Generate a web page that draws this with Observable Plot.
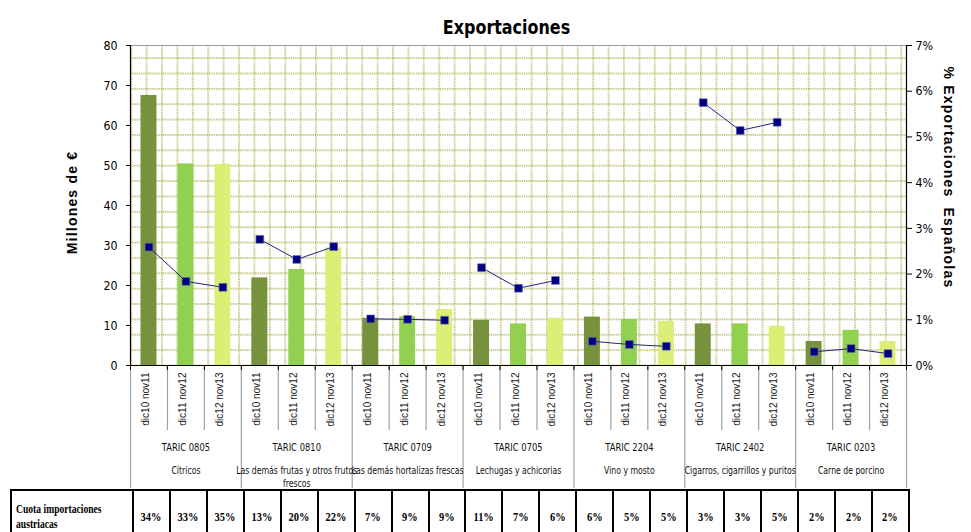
<!DOCTYPE html>
<html>
<head>
<meta charset="utf-8">
<script src="https://cdn.jsdelivr.net/npm/d3@7"></script>
<script src="https://cdn.jsdelivr.net/npm/@observablehq/plot@0.6"></script>
<style>
  html, body { margin: 0; padding: 0; background: #fff; overflow: hidden; }
  #wrap { position: relative; width: 971px; height: 532px; }
  #chart svg { display: block; }
  table.cuota { position: absolute; left: 10px; top: 489px; border-collapse: collapse; font-family: "Liberation Serif", "Times New Roman", serif; font-weight: bold; }
  table.cuota td { border: 2px solid #000; height: 52px; padding: 0; text-align: center; font-size: 13px; }
  table.cuota td span { display: inline-block; transform: scaleX(0.8); }
  table.cuota td.lab { text-align: left; padding-left: 4px; font-size: 12px; line-height: 15px; }
  table.cuota td.lab span { transform-origin: left center; white-space: nowrap; }
</style>
</head>
<body>
<div id="wrap">
  <div id="chart"></div>
</div>
<script>
// ---------- data ----------
const groups = ["TARIC 0805", "TARIC 0810", "TARIC 0709", "TARIC 0705", "TARIC 2204", "TARIC 2402", "TARIC 0203"];
const descriptions = ["Cítricos", "Las demás frutas y otros frutos\nfrescos", "Las demás hortalizas frescas", "Lechugas y achicorias", "Vino y mosto", "Cigarros, cigarrillos y puritos", "Carne de porcino"];
const periods = ["dic10 nov11", "dic11 nov12", "dic12 nov13"];
const exportsMEUR = [
  [67.5, 50.4, 50.3],
  [21.9, 24.0, 29.4],
  [11.8, 12.2, 14.0],
  [11.3, 10.4, 11.8],
  [12.1, 11.5, 11.0],
  [10.4, 10.4, 9.8],
  [6.0, 8.8, 6.0]
];
const shareSpainPct = [
  [2.59, 1.84, 1.71],
  [2.76, 2.32, 2.60],
  [1.02, 1.01, 0.99],
  [2.14, 1.69, 1.86],
  [0.53, 0.46, 0.42],
  [5.75, 5.14, 5.32],
  [0.30, 0.37, 0.26]
];
const cuotaAustria = [
  ["34%", "33%", "35%"],
  ["13%", "20%", "22%"],
  ["7%", "9%", "9%"],
  ["11%", "7%", "6%"],
  ["6%", "5%", "5%"],
  ["3%", "3%", "5%"],
  ["2%", "2%", "2%"]
];
const leftTicks = [0, 10, 20, 30, 40, 50, 60, 70, 80];
const rightTicks = [0, 1, 2, 3, 4, 5, 6, 7];
const periodColors = ["#76923C", "#92D050", "#DDEE77"];

// ---------- build rows ----------
const rows = [];
groups.forEach((g, gi) => periods.forEach((p, pi) => rows.push({
  i: gi * 3 + pi, gi, pi, group: g, period: p,
  value: exportsMEUR[gi][pi], share: shareSpainPct[gi][pi], cuota: cuotaAustria[gi][pi]
})));
const groupRows = groups.map((g, gi) => ({gi, g, desc: descriptions[gi]}));
const nSlots = rows.length;
const pctToY = 80 / 7; // right axis (0–7 %) mapped onto left axis (0–80)
const bounds = d3.range(0, nSlots + 1);

const narrow = '"DejaVu Sans", sans-serif';
const arial = '"Liberation Sans", Arial, sans-serif';

const plot = Plot.plot({
  width: 971,
  height: 490,
  marginTop: 45,
  marginBottom: 125,
  marginLeft: 130,
  marginRight: 65,
  style: {fontFamily: narrow, fontSize: "12px", color: "#000", background: "#fff"},
  x: {type: "linear", domain: [0, nSlots]},
  y: {domain: [0, 80]},
  color: {domain: periods, range: periodColors},
  marks: [
    Plot.frame({fill: "url(#xlgrid)", stroke: null}),
    Plot.ruleY([80], {stroke: "#9a9a9a", strokeWidth: 1.2}),
    // bars
    Plot.rectY(rows, {x1: d => d.i, x2: d => d.i + 1, y: "value", fill: "period", insetLeft: 10.5, insetRight: 10.5}),
    // separators in category area
    Plot.axisX({ticks: bounds.filter(b => b % 3 !== 0), tickSize: 65, tickFormat: () => "", stroke: "#a0a0a0", strokeWidth: 1.2}),
    Plot.axisX({ticks: bounds.filter(b => b % 3 === 0), tickSize: 123, tickFormat: () => "", stroke: "#a0a0a0", strokeWidth: 1.2}),
    Plot.axisX({ticks: bounds, tickSize: 5, tickFormat: () => "", stroke: "#000"}),
    // axis lines
    Plot.ruleY([0], {stroke: "#000", strokeWidth: 1.2}),
    Plot.ruleX([0, nSlots], {stroke: "#000", strokeWidth: 1.2}),
    // left axis
    Plot.axisY({ticks: leftTicks, anchor: "left", tickSize: 4, tickPadding: 9, fontSize: 13, label: null}),
    // right axis
    Plot.axisY({ticks: rightTicks.map(p => p * pctToY), anchor: "right", tickSize: 5, tickPadding: 4,
      tickFormat: v => Math.round(v / pctToY) + "%", fontSize: 13, label: null}),
    // share line
    Plot.line(rows, {x: d => d.i + 0.5, y: d => d.share * pctToY, z: "group", stroke: "#22228a", strokeWidth: 1}),
    Plot.dot(rows, {x: d => d.i + 0.5, y: d => d.share * pctToY, symbol: "square", r: 4.4, fill: "#000080", stroke: "#6f6fb0", strokeWidth: 0.6}),
    // period labels (rotated)
    Plot.text(rows, {x: d => d.i + 0.5, text: "period", frameAnchor: "bottom", rotate: -90, textAnchor: "end",
      dy: 7, fontSize: 10, fontFamily: arial, fill: "#222"}),
    // group labels
    Plot.text(groupRows, {x: d => d.gi * 3 + 1.5, text: "g", frameAnchor: "bottom", dy: 85, fontSize: 10.5, fill: "#111"}),
    Plot.text(groupRows, {x: d => d.gi * 3 + 1.5, text: "desc", frameAnchor: "bottom", lineAnchor: "top", dy: 99, fontSize: 10.5, lineHeight: 1.25, fill: "#111"}),
    // axis titles and chart title
    Plot.text(["Millones de €"], {frameAnchor: "left", textAnchor: "middle", rotate: -90, dx: -58, dy: -3, fontFamily: arial, fontWeight: "bold", fontSize: 14}),
    Plot.text(["% Exportaciones  Españolas"], {frameAnchor: "right", textAnchor: "middle", rotate: 90, dx: 42, dy: -28, fontFamily: arial, fontWeight: "bold", fontSize: 14}),
    Plot.text(["Exportaciones"], {frameAnchor: "top", dy: -25, dx: -12, fontWeight: "bold", fontSize: 19})
  ]
});

// Excel-like dotted pattern for plot area
const ns = "http://www.w3.org/2000/svg";
const svg = plot.tagName.toLowerCase() === "svg" ? plot : plot.querySelector("svg");
const defs = document.createElementNS(ns, "defs");
const gx = 15.4, gy = 15.37;
const pat = document.createElementNS(ns, "pattern");
pat.setAttribute("id", "xlgrid");
pat.setAttribute("patternUnits", "userSpaceOnUse");
pat.setAttribute("width", gx);
pat.setAttribute("height", gy);
pat.setAttribute("x", 130.7 - gx / 2);
pat.setAttribute("y", 365 - gy / 2);
const bg = document.createElementNS(ns, "rect");
bg.setAttribute("width", gx); bg.setAttribute("height", gy); bg.setAttribute("fill", "#fff");
pat.appendChild(bg);
const h = document.createElementNS(ns, "line");
h.setAttribute("x1", 0); h.setAttribute("x2", gx); h.setAttribute("y1", gy / 2); h.setAttribute("y2", gy / 2);
const v = document.createElementNS(ns, "line");
v.setAttribute("x1", gx / 2); v.setAttribute("x2", gx / 2); v.setAttribute("y1", 0); v.setAttribute("y2", gy);
for (const l of [h, v]) {
  l.setAttribute("stroke", "#a3a33c");
  l.setAttribute("stroke-width", 1.3);
  l.setAttribute("stroke-dasharray", "1.1 1.1");
  pat.appendChild(l);
}
defs.appendChild(pat);
svg.insertBefore(defs, svg.firstChild);

// typographic tweaks: letter-spaced axis titles, horizontally condensed (narrow) labels
const titles = new Set(["Millones de €", "% Exportaciones  Españolas"]);
const descFlat = new Set(descriptions.map(d => d.replace("\n", "")));
d3.select(svg).selectAll("text").each(function () {
  const t = this.textContent;
  if (titles.has(t)) { this.style.letterSpacing = "1.2px"; return; }
  const tr = this.getAttribute("transform") || "";
  if (tr.includes("rotate")) return;
  if (!t) return;
  let s = 0.85;
  if (t === "Exportaciones") s = 0.84;
  else if (groups.includes(t)) s = 0.8;
  else if (descFlat.has(t)) s = 0.74;
  if (tr) {
    this.setAttribute("transform", tr + ` scale(${s},1)`);
  } else {
    const x = +this.getAttribute("x") || 0;
    this.setAttribute("transform", `translate(${x},0) scale(${s},1) translate(${-x},0)`);
  }
});

document.getElementById("chart").appendChild(plot);

// table of Austrian import share
const table = document.createElement("table");
table.className = "cuota";
const trow = document.createElement("tr");
const lab = document.createElement("td");
lab.className = "lab";
lab.style.width = "116px";
lab.innerHTML = "<span>Cuota importaciones<br>austriacas</span>";
trow.appendChild(lab);
rows.forEach(r => {
  const td = document.createElement("td");
  td.style.width = (776 / nSlots - 2) + "px";
  const s = document.createElement("span");
  s.textContent = r.cuota;
  td.appendChild(s);
  trow.appendChild(td);
});
table.appendChild(trow);
document.getElementById("wrap").appendChild(table);
</script>
</body>
</html>
